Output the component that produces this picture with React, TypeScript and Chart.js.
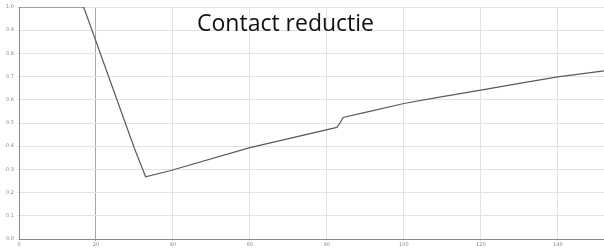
import React, { useEffect, useRef } from "react";
import { Chart, registerables } from "chart.js";

Chart.register(...registerables);

const titleText = "Contact reductie";
const xValues = [0, 16.8, 30.0, 32.9, 39.2, 60, 82.6, 83.4, 84.2, 90, 100, 110, 120, 130, 140, 152];
const yValues = [1.0, 1.0, 0.39, 0.268, 0.294, 0.394, 0.481, 0.5, 0.524, 0.546, 0.584, 0.614, 0.642, 0.671, 0.699, 0.725];
const xTicks = [0, 20, 40, 60, 80, 100, 120, 140];

export default function App() {
  const ref = useRef<HTMLCanvasElement | null>(null);
  useEffect(() => {
    document.body.style.margin = "0";
    const canvas = ref.current;
    if (!canvas) return;
    const data = xValues.map((x, i) => ({ x, y: yValues[i] }));
    const chart = new Chart(canvas, {
      type: "line",
      data: {
        datasets: [
          {
            data,
            borderColor: "#5a5a5a",
            borderWidth: 1.2,
            pointRadius: 0,
            tension: 0,
            fill: false,
          },
        ],
      },
      options: {
        responsive: false,
        animation: false,
        layout: { padding: { top: 7, right: 0, left: 0, bottom: 0 } },
        plugins: { legend: { display: false }, tooltip: { enabled: false }, title: { display: false } },
        scales: {
          x: {
            type: "linear",
            min: 0,
            max: 152,
            afterBuildTicks: (s: any) => {
              s.ticks = xTicks.map((v) => ({ value: v }));
            },
            afterFit: (s: any) => {
              s.height = 9;
            },
            ticks: {
              font: { size: 5, family: "DejaVu Sans" },
              color: "#888",
              padding: 1,
              maxRotation: 0,
              autoSkip: false,
            },
            grid: {
              color: (ctx: any) => (ctx.tick && ctx.tick.value === 20 ? "#a8a8a8" : "#e2e2e2"),
              tickLength: 2,
            },
            border: { color: "#8a8a8a", width: 1 },
          },
          y: {
            min: 0,
            max: 1,
            afterFit: (s: any) => {
              s.width = 19;
            },
            ticks: {
              stepSize: 0.1,
              font: { size: 5, family: "DejaVu Sans" },
              color: "#888",
              padding: 3,
              callback: (v: any) => Number(v).toFixed(1),
            },
            grid: { color: "#e2e2e2", tickLength: 2 },
            border: { color: "#8a8a8a", width: 1 },
          },
        },
      },
    });
    return () => chart.destroy();
  }, []);
  return (
    <div style={{ position: "relative", width: 604, height: 248, background: "#fff" }}>
      <canvas ref={ref} width={604} height={248} style={{ display: "block" }} />
      <div
        style={{
          position: "absolute",
          left: 197,
          top: 7,
          fontFamily: "'Open Sans', sans-serif",
          fontSize: 23,
          lineHeight: "30px",
          color: "#111",
          whiteSpace: "nowrap",
        }}
      >
        {titleText}
      </div>
    </div>
  );
}
